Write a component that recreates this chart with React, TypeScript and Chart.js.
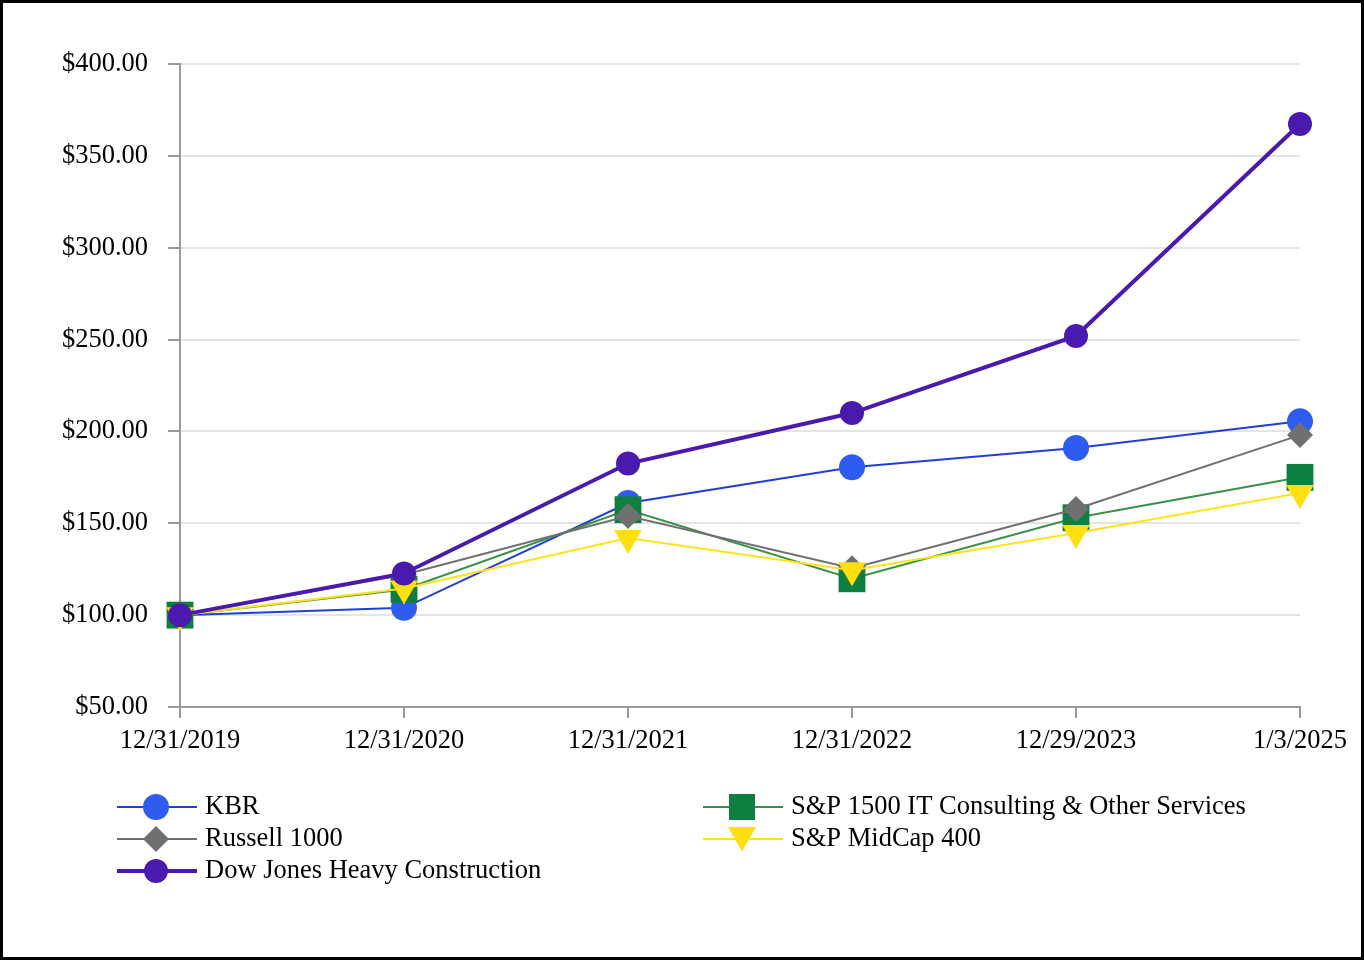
import React, { useEffect, useRef } from 'react';
import { Chart, registerables } from 'chart.js';
Chart.register(...registerables);

const categories = ['12/31/2019', '12/31/2020', '12/31/2021', '12/31/2022', '12/29/2023', '1/3/2025'];
const kbr = [100, 104, 161, 180.5, 191, 205.5];
const russell1000 = [100, 122, 154, 125.5, 157.8, 198];
const sp1500It = [100, 114, 157.4, 119.8, 153, 175];
const spMidCap400 = [100, 114.5, 142, 124.5, 144.7, 166.5];
const dowJonesHeavy = [100, 122.7, 182.5, 210, 252, 367.3];
const yMin = 50;
const yMax = 400;
const yStep = 50;

const FONT = '"Liberation Serif", "Times New Roman", serif';
const FONT_SIZE = 26.5;

type Marker = 'circle' | 'diamond' | 'square' | 'triangleDown';

function drawMarker(ctx: CanvasRenderingContext2D, type: Marker, x: number, y: number, r: number, color: string) {
  ctx.save();
  ctx.fillStyle = color;
  ctx.beginPath();
  if (type === 'circle') {
    ctx.arc(x, y, r, 0, Math.PI * 2);
  } else if (type === 'diamond') {
    ctx.moveTo(x, y - r);
    ctx.lineTo(x + r, y);
    ctx.lineTo(x, y + r);
    ctx.lineTo(x - r, y);
    ctx.closePath();
  } else if (type === 'square') {
    ctx.rect(x - r, y - r, 2 * r, 2 * r);
  } else {
    ctx.moveTo(x - r, y - r * 0.85);
    ctx.lineTo(x + r, y - r * 0.85);
    ctx.lineTo(x, y + r * 0.9);
    ctx.closePath();
  }
  ctx.fill();
  ctx.restore();
}

export default function App() {
  const ref = useRef<HTMLCanvasElement>(null);

  useEffect(() => {
    document.body.style.margin = '0';
    if (!ref.current) return;

    const legendItems = [
      { label: 'KBR', line: '#1f3fd6', lw: 2, marker: 'circle' as Marker, mc: '#2f5cf0', r: 13, x: 117, y: 807 },
      { label: 'Russell 1000', line: '#707070', lw: 2, marker: 'diamond' as Marker, mc: '#707070', r: 13, x: 117, y: 839 },
      { label: 'Dow Jones Heavy Construction', line: '#4a1aae', lw: 4, marker: 'circle' as Marker, mc: '#4a1aae', r: 12, x: 117, y: 871 },
      { label: 'S&P 1500 IT Consulting & Other Services', line: '#3a9148', lw: 2, marker: 'square' as Marker, mc: '#0f7f3f', r: 13, x: 703, y: 807 },
      { label: 'S&P MidCap 400', line: '#ffe21a', lw: 2, marker: 'triangleDown' as Marker, mc: '#ffdf10', r: 14, x: 703, y: 839 },
    ];

    const legendPlugin = {
      id: 'customLegend',
      afterDraw(chart: any) {
        const ctx: CanvasRenderingContext2D = chart.ctx;
        ctx.save();
        for (const it of legendItems) {
          ctx.strokeStyle = it.line;
          ctx.lineWidth = it.lw;
          ctx.beginPath();
          ctx.moveTo(it.x, it.y);
          ctx.lineTo(it.x + 80, it.y);
          ctx.stroke();
          drawMarker(ctx, it.marker, it.x + 39, it.y, it.r, it.mc);
          ctx.fillStyle = '#000';
          ctx.font = FONT_SIZE + 'px ' + FONT;
          ctx.textBaseline = 'middle';
          ctx.textAlign = 'left';
          ctx.fillText(it.label, it.x + 88, it.y);
        }
        ctx.restore();
      },
    };

    const framePlugin = {
      id: 'frame',
      afterDraw(chart: any) {
        const ctx: CanvasRenderingContext2D = chart.ctx;
        ctx.save();
        ctx.strokeStyle = '#000';
        ctx.lineWidth = 3;
        ctx.strokeRect(1.5, 1.5, chart.width - 3, chart.height - 3);
        ctx.restore();
      },
    };

    const chart = new Chart(ref.current, {
      type: 'line',
      data: {
        labels: categories,
        datasets: [
          {
            label: 'Dow Jones Heavy Construction',
            data: dowJonesHeavy,
            borderColor: '#4a1aae',
            backgroundColor: '#4a1aae',
            borderWidth: 4,
            pointStyle: 'circle',
            pointRadius: 12,
            pointBorderWidth: 0,
            order: 1,
          },
          {
            label: 'S&P MidCap 400',
            data: spMidCap400,
            borderColor: '#ffe21a',
            backgroundColor: '#ffdf10',
            borderWidth: 2,
            pointStyle: 'triangle',
            rotation: 180,
            pointRadius: 16,
            pointBorderWidth: 0,
            order: 2,
          },
          {
            label: 'Russell 1000',
            data: russell1000,
            borderColor: '#707070',
            backgroundColor: '#707070',
            borderWidth: 2,
            pointStyle: 'rectRot',
            pointRadius: 13,
            pointBorderWidth: 0,
            order: 3,
          },
          {
            label: 'S&P 1500 IT Consulting & Other Services',
            data: sp1500It,
            borderColor: '#3a9148',
            backgroundColor: '#0f7f3f',
            borderWidth: 2,
            pointStyle: 'rect',
            pointRadius: 19,
            pointBorderWidth: 0,
            order: 4,
          },
          {
            label: 'KBR',
            data: kbr,
            borderColor: '#1f3fd6',
            backgroundColor: '#2f5cf0',
            borderWidth: 2,
            pointStyle: 'circle',
            pointRadius: 13,
            pointBorderWidth: 0,
            order: 5,
          },
        ],
      },
      options: {
        animation: false,
        responsive: false,
        devicePixelRatio: 1,
        layout: { padding: { left: 0, right: 64, top: 64, bottom: 193 } },
        plugins: { legend: { display: false }, tooltip: { enabled: false } },
        elements: { line: { tension: 0 } },
        scales: {
          x: {
            offset: false,
            grid: { drawOnChartArea: false, drawTicks: true, tickLength: 11, tickColor: '#9a9a9a', lineWidth: 2 },
            border: { color: '#9a9a9a', width: 2 },
            ticks: { font: { family: FONT, size: FONT_SIZE }, color: '#000', padding: 7, maxRotation: 0, autoSkip: false },
            afterFit: (s: any) => { s.height = 60; },
          },
          y: {
            min: yMin,
            max: yMax,
            ticks: {
              stepSize: yStep,
              callback: (v: any) => '$' + Number(v).toFixed(2),
              padding: 20,
              font: { family: FONT, size: FONT_SIZE },
              color: '#000',
            },
            grid: { color: '#e4e4e4', lineWidth: 2, tickColor: '#9a9a9a', tickLength: 12 },
            border: { color: '#9a9a9a', width: 2 },
            afterFit: (s: any) => { s.width = 180; },
          },
        },
      },
      plugins: [legendPlugin, framePlugin],
    });

    return () => chart.destroy();
  }, []);

  return <canvas ref={ref} width={1364} height={960} style={{ display: 'block' }} />;
}
